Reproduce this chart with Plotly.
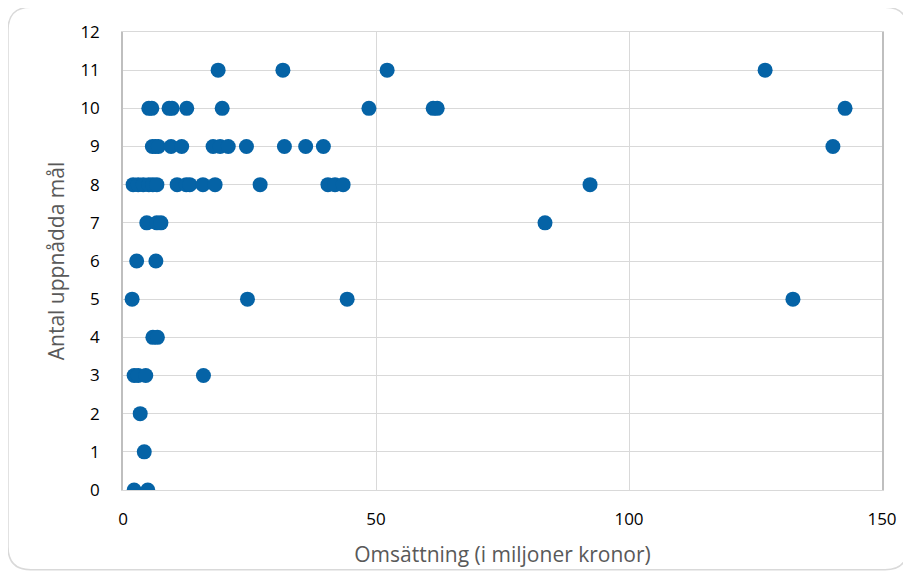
import plotly.graph_objects as go

# Omsättning (miljoner kronor) and antal uppnådda mål
omsattning = [
    18.8, 31.6, 52.2, 126.9,
    5.1, 5.7, 9.1, 9.7, 12.6, 19.6, 48.6, 61.3, 62.1, 142.7,
    5.8, 6.4, 7.0, 9.5, 11.6, 17.8, 19.2, 20.8, 24.4, 31.9, 36.1, 39.6, 140.3,
    2.0, 3.0, 4.0, 5.1, 5.9, 6.7, 10.7, 12.5, 13.2, 15.8, 18.2, 27.1, 40.5, 41.9, 43.5, 92.3,
    4.7, 6.7, 7.5, 83.4,
    2.7, 6.5,
    1.8, 24.6, 44.3, 132.4,
    5.9, 6.8,
    2.2, 3.0, 4.5, 15.9,
    3.4,
    4.2,
    2.2, 4.9,
]
mal = (
    [11] * 4 + [10] * 10 + [9] * 13 + [8] * 16 + [7] * 4 + [6] * 2
    + [5] * 4 + [4] * 2 + [3] * 4 + [2] * 1 + [1] * 1 + [0] * 2
)

x_ticks = [0, 50, 100, 150]
y_ticks = list(range(0, 13))

fig = go.Figure()
fig.add_trace(go.Scatter(
    x=omsattning, y=mal, mode="markers",
    marker=dict(size=15, color="#0563A6"),
    hoverinfo="x+y", showlegend=False,
))

font_family = "Liberation Sans Narrow, Open Sans, DejaVu Sans, sans-serif"

fig.update_layout(
    width=911, height=573,
    margin=dict(l=115, r=37, t=22, b=91),
    paper_bgcolor="white", plot_bgcolor="white",
    font=dict(family=font_family, size=17, color="#000000"),
    xaxis=dict(
        range=[0, 150], tickvals=x_ticks, showgrid=True, gridcolor="#d9d9d9",
        gridwidth=1.3, zeroline=False, showline=True, linecolor="#d9d9d9",
        linewidth=1.3, mirror=True, ticks="", ticklabelstandoff=13,
        title=dict(text="Omsättning (i miljoner kronor)", font=dict(size=21, color="#595959"), standoff=18),
        fixedrange=True,
    ),
    yaxis=dict(
        range=[0, 12], tickvals=y_ticks, showgrid=True, gridcolor="#d9d9d9",
        gridwidth=1.3, zeroline=False, showline=True, linecolor="#bfbfbf",
        linewidth=1.5, mirror=True, ticks="", ticklabelstandoff=18,
        title=dict(text="Antal uppnådda mål", font=dict(size=21, color="#595959"), standoff=10),
        fixedrange=True,
    ),
)

# Outer rounded border of chart area
x0, x1, y0, y1 = -0.1515, 1.034, -0.174, 1.054
rx, ry = 0.03, 0.05
path = (
    f"M {x0+rx},{y1} L {x1-rx},{y1} Q {x1},{y1} {x1},{y1-ry} "
    f"L {x1},{y0+ry} Q {x1},{y0} {x1-rx},{y0} "
    f"L {x0+rx},{y0} Q {x0},{y0} {x0},{y0+ry} "
    f"L {x0},{y1-ry} Q {x0},{y1} {x0+rx},{y1} Z"
)
fig.add_shape(type="path", path=path, xref="paper", yref="paper",
              line=dict(color="#d9d9d9", width=1.5), layer="below")

fig.write_html("out.html")
